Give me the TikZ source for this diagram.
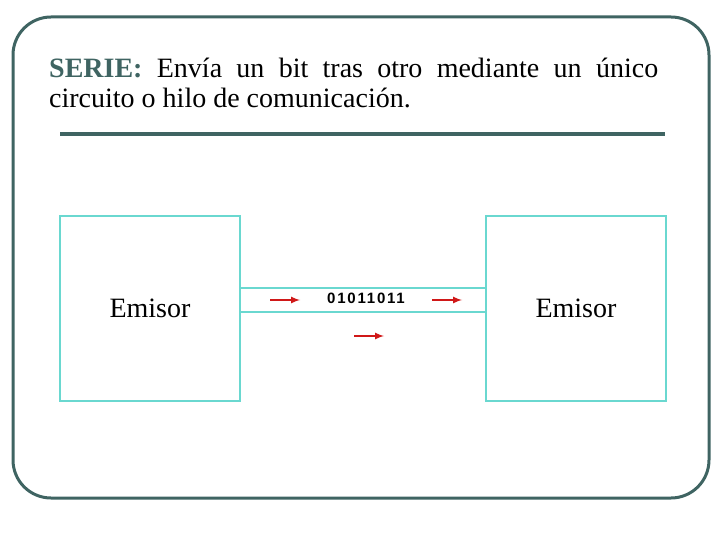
\documentclass[tikz,border=0pt]{standalone}
\usepackage{fontspec}
\setmainfont{Liberation Serif}
\newfontfamily\bitsfont[LetterSpace=12]{Liberation Sans}
\usepackage{xcolor}
\definecolor{marco}{HTML}{3F6462}
\definecolor{caja}{HTML}{6AD8D0}
\definecolor{flecha}{HTML}{D01818}

\begin{document}
\begin{tikzpicture}[x=1pt, y=-1pt,
  equipo/.style={draw=caja, line width=1.2pt, minimum width=180pt, minimum height=185pt,
    inner sep=0pt, font=\fontsize{28}{30}\selectfont},
  hilo/.style={draw=caja, line width=1.2pt},
  envio/.style={draw=flecha, line width=2pt, -latex}]
  % Fix the page size
  \useasboundingbox (0,0) rectangle (720,540);

  % Draw the outer frame and the rule
  \draw[marco, line width=3pt, rounded corners=38pt] (13,17) rectangle (709,498);
  \draw[marco, line width=4pt] (60,134) -- (665,134);

  % Title text
  \node[anchor=base west, inner sep=0pt, text width=609pt, align=justify,
    font=\fontsize{28}{30}\selectfont] (titulo) at (49,78)
    {\textcolor{marco}{\textbf{SERIE:}} Envía un bit tras otro mediante un único\linebreak
     circuito o hilo de comunicación.};

  % Sender and receiver boxes
  \node[equipo] (emisor) at (150,308.5) {Emisor};
  \node[equipo] (receptor) at (576,308.5) {Emisor};

  % The line between them
  \draw[hilo] (emisor.east |- 0,288) -- (receptor.west |- 0,288);
  \draw[hilo] (emisor.east |- 0,312) -- (receptor.west |- 0,312);
  \node[inner sep=0pt, font=\bitsfont\fontsize{15}{15}\selectfont\bfseries] (bits) at (366,298.5) {01011011};

  % Red arrows
  \draw[envio] (270,300) -- (300,300);
  \draw[envio] (432,300) -- (462,300);
  \draw[envio] (354,336) -- (384,336);
\end{tikzpicture}
\end{document}
